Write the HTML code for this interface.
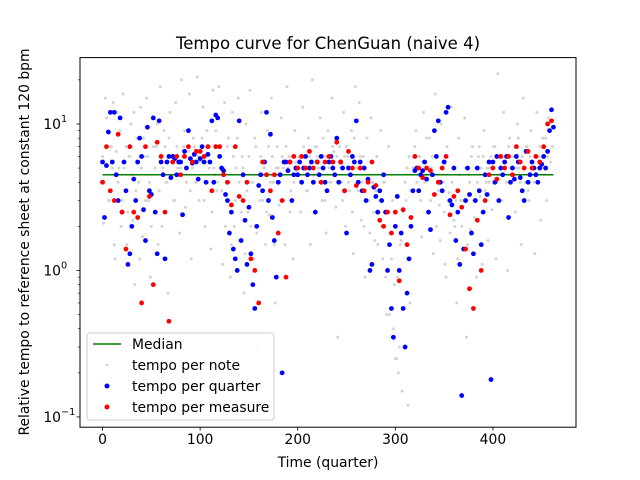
<!DOCTYPE html>
<html><head><meta charset="utf-8"><style>
body{margin:0;background:#fff}
svg{display:block;font-family:"DejaVu Sans","Liberation Sans",sans-serif}
</style></head><body>
<svg id="chart" width="640" height="480" viewBox="0 0 640 480">
<rect x="0" y="0" width="640" height="480" fill="#fff"/>
<text x="328" y="49" font-size="16.5" text-anchor="middle">Tempo curve for ChenGuan (naive 4)</text>
<g id="plot"></g>
<rect x="80" y="57.6" width="496" height="369.6" fill="none" stroke="#000" stroke-width="1"/>
<g id="axes"></g>
<text x="328" y="467" font-size="13.9" text-anchor="middle">Time (quarter)</text>
<text transform="translate(29,242) rotate(-90)" font-size="13.9" text-anchor="middle">Relative tempo to reference sheet at constant 120 bpm</text>
<g>
<rect x="87" y="333" width="187" height="87" rx="3" fill="#fff" fill-opacity="0.8" stroke="#ccc"/>
<line x1="93" y1="344" x2="121" y2="344" stroke="#008000" stroke-width="1.5"/>
<text x="132" y="349" font-size="13.9">Median</text>
<circle cx="107" cy="365" r="1.3" fill="#d3d3d3"/>
<text x="132" y="370" font-size="13.9">tempo per note</text>
<circle cx="107" cy="386" r="2.5" fill="#0000ff"/>
<text x="132" y="391" font-size="13.9">tempo per quarter</text>
<circle cx="107" cy="407" r="2.5" fill="#ff0000"/>
<text x="132" y="412" font-size="13.9">tempo per measure</text>
</g>
</svg>
<script>
const noteStep = 2, noteOffset = 1;
const noteValues = [2.1,15,9,3,7,14,1.2,12,5,2,16,3.5,1.5,6,10,2.2,0.8,8,4,13,1.7,6,15,3,0.9,11,2.5,7,1.5,18,2,9,4,0.7,12,6,3,14,5,1.8,20,7,2.7,5,16,1.2,8,4,21,3,6.5,13,2,9,5,1.4,17,4.5,3.5,18,7,1.1,14,3,8,0.9,12,2,5,15,1.6,6,0.7,10,2.5,17,4,1.2,7,0.3,3,12,5,1.5,9,2.4,15,4,0.6,7,2.8,11,5,1.5,18,6,3.5,1.2,9,4.8,6,2.5,13,5,3.5,8,1.5,20,4.5,7,5,11,3,6,1.8,9,4,15,6.5,2.7,0.35,7,4,12,2,6,3.5,9,1.3,18,5,14,2.2,6,0.9,8,3,11,4,1.6,6,2.5,9,1.2,4,0.5,7,1.8,3,0.8,0.25,0.2,1.5,0.15,0.3,3,0.12,0.6,2,5,9,3.5,6,1.7,12,4.5,2.5,8,5,1.3,16,6,2.8,10,4,1.1,7,3.4,13,5,2,0.6,8,3,1.4,11,0.35,4.5,1.9,7,2.3,0.9,6,3.2,1.1,9,4,1.6,5,2.6,7,1.2,22,4.5,3,12,5.5,1,8,4,6,2.5,10,5,1.5,15,4,7,3,9,5,1.3,12,6,2.2,8,4.5,3,11,5.5,7];
const noteStepB = 2, noteOffsetB = 0;
const noteValuesB = [6,4,11,3,7,5,1.5,6.5,4,9,3,5,7,2.5,6,4.5,12,3.5,5.5,1.2,5,8,3,6,4,2,7,5,10,3.5,6,5,7,4,8,5.5,6,3,7,4.5,5,6,9,4,6.5,3.5,5,7,4,6,5.5,8,3,6,4,7,2.5,5,9,4,6,3.5,5,2,7,4,1.5,6,3,8,4,2.5,5,1.3,3.5,6,2,4,8,1.8,4.5,6,3,5,2.5,7,4,6,1.5,5,5,4,6,3,7,5,2.5,6,4,5.5,5,6,4,7,5,3.5,6,5,4.5,7,6,4,5,8,3,6,5,4,7,5.5,6,4,5,3,6,7,4,5,2.5,8,5,3.5,6,4,2,5,3,1.8,4,2.5,3.5,1.5,3,2,4,0.9,2.5,0.5,1.2,0.4,0.25,0.9,0.3,1.6,2.5,4,5,6,3.5,5,7,4,6,3,5.5,4,8,5,3,6,4.5,2,3.5,1.6,4,2.5,0.9,3,1.8,4,2.2,3,1.2,4.5,2,3,5,1.5,4,6,3,5,4,7,5,6,3.5,5,4,6,5,7,4,6,3,5,6,4,7,5,6,4.5,5,8,4,6,5,7,3.5,6,5,4,6,5,7,6,5,8,6];
const quarterStep = 2;
const quarterValues = [5.5,2.3,5.2,8.8,12,5.5,12,4.5,3,11,2.5,5.5,3.5,1.1,1.3,2,4.2,3,5.5,8,6,2.6,1.6,9.5,3.5,3.3,11,2.5,1.3,10.5,5.5,4.5,1.2,5.5,6,4.3,6,5.8,4.5,5.5,5.5,2.4,6.5,5,9,5.8,5.4,6.2,5.5,4.2,5.8,7,5.5,4,6.2,5.5,10.5,4,11.5,11,6,5,4.8,3.3,3,1.8,2.5,1.4,1.2,1,10.5,1.6,4.5,2.2,1.1,2.7,1.3,0.8,0.55,2,3.8,4.5,3.5,5.5,12,3,8.5,2.3,1.6,0.9,4,4.5,0.2,5.5,5.5,4.8,5.5,3,4.5,5,4.5,5.5,4,5,6,4.5,5,5.5,4,2.5,5.5,4.5,6,5,4,3.5,5.5,6,5,4.5,8,4,5.5,5,3.5,1.8,5,4.5,6,5.5,10.5,4,5.5,3.5,5,3,4.2,1,1.1,3.7,3.2,2.5,3.5,3,4.5,2.5,1,1.5,0.55,0.35,2,3.2,1,1.8,0.55,0.3,0.7,1.2,2,3.5,4.8,5,3.5,4.5,4.8,5.5,4.2,2.5,1.9,4.5,9,6,10.5,4,3.5,5.5,12,13,3,2.8,5,1.6,2.5,1.1,0.14,1.4,3,5,3.3,1.8,1.3,3,5,3.5,1.5,2.5,4.5,3.3,5.5,0.18,5.5,4,6,3,5,4.5,5.5,6,2.3,4,5,4.2,6,5.5,4.3,3.5,3,6.5,4,4.5,5.5,5,4.5,4,5,5.3,6,5,6.5,9,12.5,9.5];
const measureStep = 4;
const measureValues = [4,7,3.5,3,8.5,2.5,1.4,7,2.5,2.3,0.6,7,3.2,0.8,7.5,6,2.5,0.45,5.5,6,4.5,6,7,5.5,6.5,6.5,6,7,3.5,7,7,4.5,4,2.8,7,3.2,3,4,1.2,1,0.6,5.5,4.5,3.5,4.5,1.8,3,0.9,5.5,6,5,6,5,6.5,5,5.5,4,5.5,6,5.5,7.5,5.5,3.5,6.5,5,3.8,5,3.5,4,5.5,3.8,2.2,2,2.5,1.8,2.5,0.85,2.6,1.5,2.3,6,5,4.3,5,4.8,3.3,4,5,6,2.4,3.2,3.5,2.7,1.4,0.75,0.55,2.2,1.0,3,4.5,5,4.2,6,5,6,4.5,7,5.5,5,6.5,5,6,5.5,7,10,10.5];
const medianValue = 4.5;
const medianRange = [0, 462];
const xTicks = [0,100,200,300,400];
const yTicks = [0.1,1,10];
const yTickLabels = ["10","10","10"];
const yTickExps = ["−1","0","1"];

const X0=80,X1=576,Y0=57.6,Y1=427.2;
const xMin=-23.1,xMax=485.1,lMin=-1.07,lMax=1.453;
function sx(v){return X0+(v-xMin)/(xMax-xMin)*(X1-X0);}
function sy(v){return Y1-(Math.log10(v)-lMin)/(lMax-lMin)*(Y1-Y0);}
const NS="http://www.w3.org/2000/svg";
const plot=document.getElementById('plot'), axes=document.getElementById('axes');
function mk(tag,attrs,parent){const e=document.createElementNS(NS,tag);for(const k in attrs)e.setAttribute(k,attrs[k]);parent.appendChild(e);return e;}

noteValues.forEach((v,i)=>{
  const c=mk('circle',{cx:sx(noteOffset+i*noteStep),cy:sy(v),r:1.5,fill:'#d3d3d3'},plot);
  
  
});
noteValuesB.forEach((v,i)=>{
  const c=mk('circle',{cx:sx(noteOffsetB+i*noteStepB),cy:sy(v),r:1.5,fill:'#d3d3d3'},plot);
  
  
});
const ml=mk('line',{x1:sx(medianRange[0]),x2:sx(medianRange[1]),y1:sy(medianValue),y2:sy(medianValue),stroke:'#008000','stroke-width':1.5},plot);


quarterValues.forEach((v,i)=>{
  const c=mk('circle',{cx:sx(i*quarterStep),cy:sy(v),r:2.4,fill:'#0000ff'},plot);
  
  
});
measureValues.forEach((v,i)=>{
  const c=mk('circle',{cx:sx(i*measureStep),cy:sy(v),r:2.4,fill:'#ff0000'},plot);
  
  
});

xTicks.forEach(t=>{
  const x=sx(t);
  const l=mk('line',{x1:x,x2:x,y1:Y1,y2:Y1+3.5,stroke:'#000','stroke-width':0.8},axes);
  
  
  const tx=mk('text',{x:x,y:Y1+17,'font-size':13.9,'text-anchor':'middle'},axes);
  tx.textContent=t;
  
  
});
yTicks.forEach((t,i)=>{
  const y=sy(t);
  const l=mk('line',{x1:X0-3.5,x2:X0,y1:y,y2:y,stroke:'#000','stroke-width':0.8},axes);
  
  
  const tx=mk('text',{x:X0-19,y:y+5,'font-size':13.9,'text-anchor':'end'},axes);
  tx.textContent=yTickLabels[i];
  
  
  const ex=mk('text',{x:X0-19,y:y-2,'font-size':9.7,'text-anchor':'start'},axes);
  ex.textContent=yTickExps[i];
  
  
});
[0.1,1,10].forEach(d=>{for(let m=2;m<10;m++){const v=d*m;const y=sy(v);if(y<Y0||y>Y1)continue;
  const l=mk('line',{x1:X0-2,x2:X0,y1:y,y2:y,stroke:'#000','stroke-width':0.6},axes);
  
  
}});
</script>
</body></html>
